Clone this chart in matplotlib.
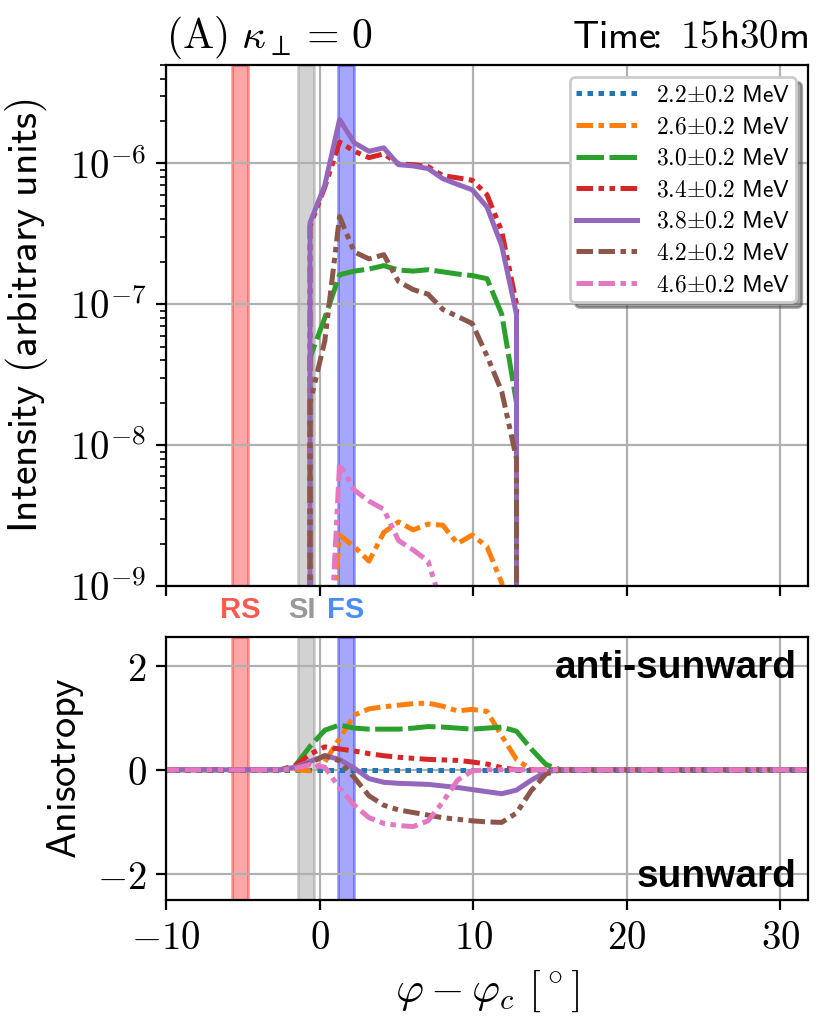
import numpy as np
import matplotlib
matplotlib.use("Agg")
import matplotlib.pyplot as plt
from matplotlib.ticker import FuncFormatter

plt.rcParams["mathtext.fontset"] = "cm"
plt.rcParams["font.size"] = 14

# angular grid, first point of the shocked region is index 10 (-0.62 deg)
phi = -0.62 + 0.96 * np.arange(-10, 35)

energies = ["2.2", "2.6", "3.0", "3.4", "3.8", "4.2", "4.6"]
colors = ["C0", "C1", "C2", "C3", "C4", "C5", "C6"]
styles = [(0, (1.1, 1.1)),
          (0, (3.3, 1.1, 1.1, 1.1)),
          (0, (5.5, 1.1)),
          (0, (3.3, 1.1, 1.1, 1.1, 1.1, 1.1)),
          "-",
          (0, (3.3, 1.1, 3.3, 1.1, 1.1, 1.1, 1.1, 1.1)),
          (0, (3.3, 1.1, 3.3, 1.1, 1.1, 1.1, 1.1, 1.1))]

# intensity, starting at index 10 (phi = -0.62)
int_22 = [0.0] * 15
int_26 = [0.0, 1e-10, 2.3e-9, 1.9e-9, 1.5e-9, 2.4e-9, 2.85e-9, 2.5e-9, 2.75e-9,
          2.7e-9, 2.0e-9, 2.3e-9, 1.9e-9, 1.05e-9, 3e-10]
int_30 = [4.2e-8, 8.0e-8, 1.62e-7, 1.72e-7, 1.78e-7, 1.88e-7, 1.75e-7, 1.72e-7,
          1.76e-7, 1.7e-7, 1.64e-7, 1.6e-7, 1.52e-7, 8.5e-8, 2.0e-8]
int_34 = [3.6e-7, 6.8e-7, 1.42e-6, 1.22e-6, 1.1e-6, 1.17e-6, 9.9e-7, 9.8e-7,
          9.5e-7, 8.2e-7, 7.9e-7, 7.6e-7, 6.0e-7, 3.3e-7, 1.0e-7]
int_38 = [3.8e-7, 7.0e-7, 2.05e-6, 1.4e-6, 1.22e-6, 1.29e-6, 9.8e-7, 9.6e-7,
          9.2e-7, 7.8e-7, 7.1e-7, 6.5e-7, 4.9e-7, 2.6e-7, 8.5e-8]
int_42 = [2.0e-8, 5.5e-8, 4.2e-7, 2.35e-7, 2.1e-7, 2.25e-7, 1.45e-7, 1.27e-7,
          1.18e-7, 9.2e-8, 8.2e-8, 7.3e-8, 4.3e-8, 2.4e-8, 8.0e-9]
int_46 = [0.0, 6e-11, 7.4e-9, 4.8e-9, 4.0e-9, 3.5e-9, 2.1e-9, 1.8e-9, 1.5e-9,
          7e-10, 3e-10, 1e-10, 0.0, 0.0, 0.0]

# anisotropy, starting at index 8 (phi = -2.54)
ani_22 = [0.0] * 20
ani_26 = [0.0, 0.0, -0.02, 0.15, 0.6, 1.05, 1.17, 1.21, 1.24, 1.27, 1.28, 1.22,
          1.13, 1.16, 1.12, 0.65, 0.2, 0.0, 0.0, 0.0]
ani_30 = [0.0, 0.08, 0.45, 0.76, 0.86, 0.8, 0.78, 0.78, 0.78, 0.8, 0.83, 0.82,
          0.8, 0.78, 0.8, 0.82, 0.74, 0.4, 0.1, 0.0]
ani_34 = [0.0, 0.08, 0.3, 0.44, 0.4, 0.36, 0.31, 0.27, 0.24, 0.22, 0.2, 0.19,
          0.18, 0.15, 0.11, 0.04, 0.0, 0.0, 0.0, 0.0]
ani_38 = [0.0, 0.05, 0.16, 0.27, 0.2, 0.03, -0.17, -0.24, -0.26, -0.27, -0.28,
          -0.31, -0.34, -0.38, -0.42, -0.46, -0.39, -0.2, -0.04, 0.0]
ani_42 = [0.0, 0.03, 0.13, 0.27, 0.17, -0.15, -0.5, -0.68, -0.77, -0.82, -0.87,
          -0.92, -0.95, -0.98, -1.0, -1.01, -0.83, -0.4, -0.08, 0.0]
ani_46 = [0.0, 0.03, 0.1, 0.05, -0.35, -0.68, -0.92, -1.03, -1.07, -1.09, -0.98,
          -0.62, -0.2, -0.02, 0.0, 0.0, 0.0, 0.0, 0.0, 0.0]

intensity = [int_22, int_26, int_30, int_34, int_38, int_42, int_46]
anisotropy = [ani_22, ani_26, ani_30, ani_34, ani_38, ani_42, ani_46]

# shock / stream interface regions
band_names = ["RS", "SI", "FS"]
band_lo = [-5.7, -1.4, 1.2]
band_hi = [-4.65, -0.36, 2.24]
band_colors = ["red", "gray", "blue"]
label_colors = ["#ff5a50", "#999999", "#4a8cff"]
label_shift = [0.0, -0.3, 0.0]


def pad(vals, start):
    out = np.zeros(len(phi))
    out[start:start + len(vals)] = vals
    return out


fig = plt.figure(figsize=(4.15, 5.15), dpi=200)
ax1 = fig.add_axes([0.2, 0.4311, 0.7735, 0.5058])
ax2 = fig.add_axes([0.2, 0.1262, 0.7735, 0.2554])

for ax in (ax1, ax2):
    for lo, hi, c in zip(band_lo, band_hi, band_colors):
        ax.axvspan(lo, hi, color=c, alpha=0.35)
    ax.grid(True)
    ax.set_xlim(-10, 31.8)
    ax.set_xticks([-10, 0, 10, 20, 30])

for i in range(len(energies)):
    lab = r"$\mathsf{%s}{\pm}\mathsf{0.2\ MeV}$" % energies[i]
    ax1.plot(phi, pad(intensity[i], 10), color=colors[i], ls=styles[i], lw=1.8, label=lab)
    ax2.plot(phi, pad(anisotropy[i], 8), color=colors[i], ls=styles[i], lw=1.8)

ax1.set_yscale("log")
ax1.set_ylim(1e-9, 5e-6)
ax1.yaxis.set_major_formatter(FuncFormatter(lambda v, p: r"$10^{%d}$" % round(np.log10(v))))
ax1.set_xticklabels([])
ax1.set_ylabel(r"$\mathsf{Intensity\ (arbitrary\ units)}$", fontsize=15)
ax1.yaxis.set_label_coords(-0.18, 0.52)
ax1.set_title(r"$\mathrm{(A)}\ \kappa_\perp = \,0$", loc="left", fontsize=15)
ax1.set_title(r"$\mathsf{Time}\!\!\mathsf{:}\ \mathsf{15h30m}$", loc="right", fontsize=14)
ax1.legend(loc="upper right", shadow=True, fontsize=8.5, handlelength=2.6,
           labelspacing=0.32, borderpad=0.25)

for name, lo, hi, c, s in zip(band_names, band_lo, band_hi, label_colors, label_shift):
    ax1.text((lo + hi) / 2 + s, -0.046, name, transform=ax1.get_xaxis_transform(),
             ha="center", va="center", color=c, fontsize=10.5,
             fontweight="bold", family="Liberation Sans")

ax2.set_ylim(-2.5, 2.55)
ax2.set_yticks([-2, 0, 2])
ax2.yaxis.set_major_formatter(FuncFormatter(lambda v, p: r"$%g$" % v))
ax2.xaxis.set_major_formatter(FuncFormatter(lambda v, p: r"$%g$" % v))
ax2.set_ylabel(r"$\mathsf{Anisotropy}$", fontsize=14.5)
ax2.set_xlabel(r"$\varphi - \varphi_c\ [^\circ]$", fontsize=15.5)
ax2.text(0.982, 0.843, "anti-sunward", transform=ax2.transAxes, ha="right",
         va="baseline", fontsize=14, fontweight="bold", family="Liberation Sans")
ax2.text(0.982, 0.05, "sunward", transform=ax2.transAxes, ha="right",
         va="baseline", fontsize=14, fontweight="bold", family="Liberation Sans")

fig.savefig("out.png", dpi=200)
